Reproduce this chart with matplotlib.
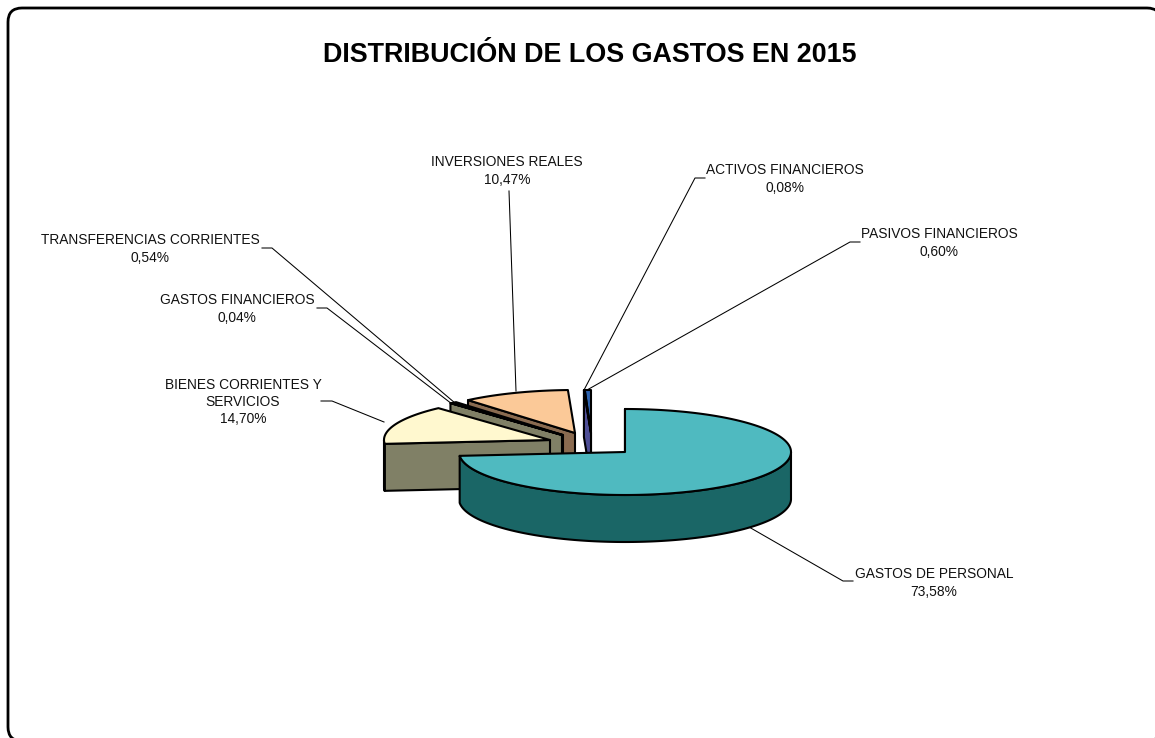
import numpy as np
import matplotlib
matplotlib.use("Agg")
import matplotlib.pyplot as plt
from matplotlib.patches import Polygon, FancyBboxPatch

plt.rcParams['font.family'] = ['Liberation Sans', 'DejaVu Sans']

TITLE = "DISTRIBUCIÓN DE LOS GASTOS EN 2015"
categories = ["GASTOS DE PERSONAL", "BIENES CORRIENTES Y\nSERVICIOS", "GASTOS FINANCIEROS",
              "TRANSFERENCIAS CORRIENTES", "INVERSIONES REALES", "ACTIVOS FINANCIEROS",
              "PASIVOS FINANCIEROS"]
values = [73.58, 14.70, 0.04, 0.54, 10.47, 0.08, 0.60]
value_labels = ["73,58%", "14,70%", "0,04%", "0,54%", "10,47%", "0,08%", "0,60%"]

top_colors = ["#4FBAC0", "#FFF8CF", "#8A8A6E", "#2F5FAE", "#FBC998", "#2F5FAE", "#2F64B0"]
wall_colors = ["#1A6666", "#808066", "#808066", "#808066", "#8A6B50", "#4F4F96", "#4F4F96"]
offsets = [(0, 0), (-75, -12), (-63, -17), (-62, -17), (-50, -19), (-34, -19), (-34, -19)]
label_pos = [(934, 583), (243, 402), (237, 309), (150, 249), (507, 171), (785, 179), (939, 243)]
leaders = [
    [(853, 581), (843, 581), (749, 527)],
    [(321, 401), (332, 401), (384, 422)],
    [(317, 308), (327, 308), (452, 404)],
    [(262, 248), (272, 248), (455, 403)],
    [(509, 191), (516, 391)],
    [(705, 178), (695, 178), (584, 390)],
    [(860, 242), (850, 242), (587, 390)],
]

CX, CY, RX, RY, DEPTH = 625, 452, 166, 43, 47
LW = 1.5

fig = plt.figure(figsize=(11.55, 7.38), dpi=100)
ax = fig.add_axes([0, 0, 1, 1])
ax.set_xlim(0, 1155)
ax.set_ylim(738, 0)
ax.axis("off")

# rounded chart frame, running slightly past the right and bottom edges
R = 14
ax.add_patch(FancyBboxPatch((8 + R, 8 + R), 1161 - 8 - 2 * R, 741 - 8 - 2 * R,
                            boxstyle=f"round,pad={R},rounding_size={R}",
                            fc="white", ec="black", lw=2.0, zorder=0))


def rim(a0, a1, cx, cy):
    t = np.radians(np.linspace(a0, a1, max(int(abs(a1 - a0) * 2), 2)))
    return np.column_stack([cx + RX * np.sin(t), cy - RY * np.cos(t)])


edges = np.concatenate([[0], np.cumsum(values)]) / sum(values) * 360
style = dict(ec="black", lw=LW, joinstyle="round")

z = 5
for i in range(len(values) - 1, -1, -1):
    a0, a1 = edges[i], edges[i + 1]
    cx, cy = CX + offsets[i][0], CY + offsets[i][1]
    r = rim(a0, a1, cx, cy)
    down = np.array([0, DEPTH])
    apex = np.array([cx, cy])
    # radial wall on the starting edge
    ax.add_patch(Polygon([r[0], apex, apex + down, r[0] + down], fc=wall_colors[i], zorder=z, **style))
    z += 1
    # outer wall, only for the front half of the ellipse
    b0, b1 = max(a0, 90), min(a1, 270)
    if b1 > b0:
        o = rim(b0, b1, cx, cy)
        ax.add_patch(Polygon(np.vstack([o, (o + down)[::-1]]), fc=wall_colors[i], zorder=z, **style))
        z += 1
    ax.add_patch(Polygon(np.vstack([apex, r]), fc=top_colors[i], zorder=z, **style))
    z += 1

for pts in leaders:
    p = np.array(pts)
    ax.plot(p[:, 0], p[:, 1], color="black", lw=0.75, zorder=3)

ax.text(590, 55, TITLE, ha="center", va="center", fontsize=19.4, fontweight="bold", color="black")
for name, val, (x, y) in zip(categories, value_labels, label_pos):
    ax.text(x, y, name + "\n" + val, ha="center", va="center", fontsize=9.9,
            color="#111111", linespacing=1.3)

fig.savefig("out.png", dpi=100)
